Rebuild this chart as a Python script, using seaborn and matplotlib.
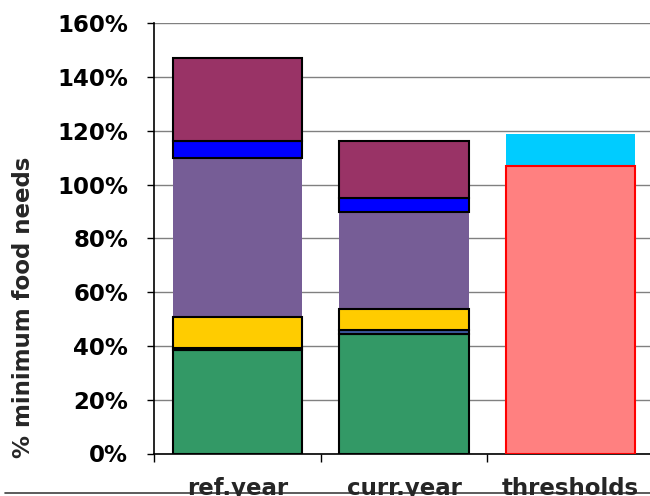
import matplotlib
matplotlib.use("Agg")
import matplotlib.pyplot as plt
from matplotlib.lines import Line2D
from matplotlib.ticker import FixedLocator
import numpy as np
import pandas as pd
import seaborn as sns

# Categories on the x axis
periods = ["ref.year", "curr.year", "thresholds"]

# Stacked components (% of minimum food needs), bottom to top
green_vals = [38.5, 44.3]        # ref.year, curr.year
slate_vals = [0.6, 1.6]
yellow_vals = [11.8, 7.8]
purple_vals = [58.9, 36.2]
blue_vals = [6.4, 5.2]
maroon_vals = [30.8, 21.1]
threshold_low = [107.0]          # thresholds
threshold_high = [11.7]

y_ticks = [0, 20, 40, 60, 80, 100, 120, 140, 160]
y_tick_labels = [f"{v}%" for v in y_ticks]

# Segment name, periods covered, values, face colour, edge colour, edge width
segments = [
    ("green", periods[:2], green_vals, "#339966", "black", 1.5),
    ("slate", periods[:2], slate_vals, "#3C5A9E", "black", 1.5),
    ("yellow", periods[:2], yellow_vals, "#FFCC00", "black", 1.5),
    ("purple", periods[:2], purple_vals, "#765D96", "none", 0.0),
    ("blue", periods[:2], blue_vals, "#0000FF", "black", 1.5),
    ("maroon", periods[:2], maroon_vals, "#993366", "black", 1.5),
    ("low", periods[2:], threshold_low, "#FF8080", "#FF0000", 1.5),
    ("high", periods[2:], threshold_high, "#00CCFF", "none", 0.0),
]

rows = []
base = {p: 0.0 for p in periods}
for name, cats, vals, *_ in segments:
    for p, v in zip(cats, vals):
        rows.append({"period": p, "segment": name, "share": v, "base": base[p]})
        base[p] += v
df = pd.DataFrame(rows)

sns.set_style("white")
plt.rcParams["font.family"] = ["DejaVu Sans"]
plt.rcParams["font.weight"] = "bold"

fig = plt.figure(figsize=(6.5, 4.96), dpi=100)
ax = fig.add_axes([154 / 650, 1 - 453.5 / 496, 500 / 650, (453.5 - 23.3) / 496])
ax.patch.set_alpha(0)

for name, cats, vals, face, edge, lw in segments:
    sub = df[df["segment"] == name]
    sns.barplot(
        data=sub, x="period", y="share", order=periods,
        bottom=sub["base"].to_numpy(), color=face, saturation=1,
        edgecolor=edge, linewidth=lw, width=0.775, errorbar=None,
        zorder=3 if lw > 0 else 2, ax=ax,
    )

ax.set_ylim(0, 160)
ax.set_xlim(-0.5, 2.5)
ax.set_yticks(y_ticks)
ax.set_yticklabels(y_tick_labels)
ax.yaxis.grid(True, color="#808080", linewidth=1.0, zorder=0)
ax.set_axisbelow(True)

for side in ("top", "right"):
    ax.spines[side].set_visible(False)
for side in ("left", "bottom"):
    ax.spines[side].set_color("black")
    ax.spines[side].set_linewidth(1.2)

ax.tick_params(axis="y", which="major", direction="out", length=5, width=1.0,
               pad=13.5, labelsize=16.5, colors="black", left=True)
ax.tick_params(axis="x", which="major", length=0, pad=17, labelsize=16.5)
ax.xaxis.set_minor_locator(FixedLocator([-0.5, 0.5, 1.5, 2.5]))
ax.tick_params(axis="x", which="minor", direction="out", length=6, width=1.0,
               color="black", bottom=True)
for lbl in ax.get_xticklabels() + ax.get_yticklabels():
    lbl.set_fontweight("bold")

ax.set_xlabel("")
ax.set_ylabel("% minimum food needs", fontsize=16.5, fontweight="bold")
ax.yaxis.label.set_va("center")
ax.yaxis.set_label_coords(-0.26, 0.34)

fig.add_artist(Line2D([0.008, 1.0], [1 - 493 / 496] * 2, color="#404040",
                      linewidth=1.2, transform=fig.transFigure, zorder=-1))

fig.savefig("out.png", dpi=100)
